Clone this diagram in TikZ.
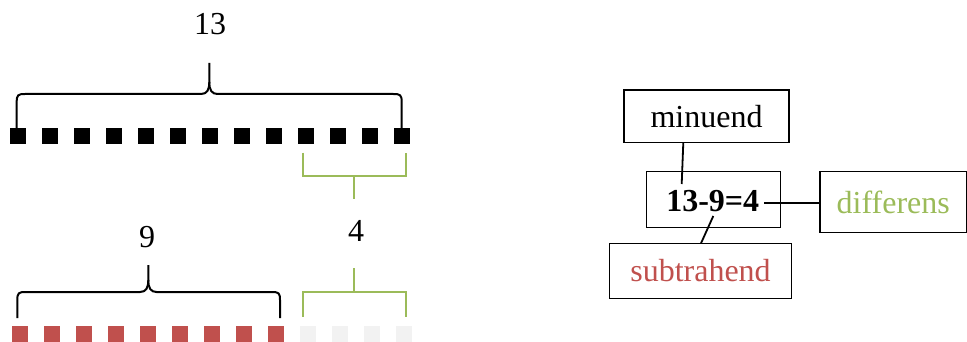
\documentclass[tikz,border=0pt]{standalone}
\usepackage{fontspec}
\setmainfont{Liberation Serif}
\definecolor{subred}{HTML}{C0504D}
\definecolor{diffgreen}{HTML}{9BBB59}
\definecolor{restgray}{HTML}{F2F2F2}
\begin{document}
\begin{tikzpicture}[x=1pt,y=-1pt,
  font=\fontsize{32}{38}\selectfont,
  unit/.style={minimum size=16pt,inner sep=0pt,draw=none},
  blackunit/.style={unit,fill=black},
  redunit/.style={unit,fill=subred},
  grayunit/.style={unit,fill=restgray},
  brace/.style={line width=2pt,black},
  gbrace/.style={line width=2pt,diffgreen},
  num/.style={inner sep=0pt},
  termbox/.style={draw,line width=1.5pt,inner sep=0pt},
  link/.style={line width=1.8pt}]
\useasboundingbox (0,0) rectangle (967,342);

% thirteen units
\foreach \i in {0,...,12}
  \node[blackunit] (t\i) at ({18+32*\i},136) {};

% nine taken away, four remaining
\foreach \i in {0,...,8}
  \node[redunit] (r\i) at ({19.7+32*\i},334) {};
\foreach \i in {0,...,3}
  \node[grayunit] (g\i) at ({308+32*\i},334) {};

% brace over all thirteen
\draw[brace] (16.7,128) -- (16.7,102)
  .. controls (16.7,95) and (18,94) .. (25,94) -- (201,94)
  .. controls (207,94) and (209.3,90) .. (209.3,82) -- (209.3,63);
\draw[brace] (401.7,128) -- (401.7,102)
  .. controls (401.7,95) and (400.4,94) .. (393.4,94) -- (217.6,94)
  .. controls (211.6,94) and (209.3,90) .. (209.3,82);
\node[num] (n13) at (210,24) {13};

% green bracket under the last four
\draw[gbrace] (302.7,152.7) -- (302.7,176) -- (405.7,176) -- (405.7,152.7);
\draw[gbrace] (354,176) -- (354,199);

% brace over the nine
\draw[brace] (17.3,318) -- (17.3,300)
  .. controls (17.3,293) and (18.6,292) .. (25.6,292) -- (140,292)
  .. controls (146,292) and (148.3,288) .. (148.3,280) -- (148.3,265);
\draw[brace] (280,318) -- (280,300)
  .. controls (280,293) and (278.7,292) .. (271.7,292) -- (156.6,292)
  .. controls (150.6,292) and (148.3,288) .. (148.3,280);
\node[num] (n9) at (147,237) {9};

% green bracket over the remaining four
\draw[gbrace] (302.7,316.7) -- (302.7,292.3) -- (405.7,292.3) -- (405.7,316.7);
\draw[gbrace] (354,292.3) -- (354,268.3);
\node[num] (n4) at (356,231) {4};

% terms of the subtraction
\node[termbox,minimum width=165pt,minimum height=52.7pt] (minuend) at (706.5,116.3) {minuend};
\node[termbox,minimum width=134pt,minimum height=56pt] (eqbox) at (713.7,199.7) {};
\node[inner sep=0pt] (eq) at (712.7,201.5) {\textbf{13-9=4}};
\node[termbox,minimum width=146.5pt,minimum height=60.6pt,text=diffgreen] (diff) at (893.3,202) {differens};
\node[termbox,minimum width=182.4pt,minimum height=55pt,text=subred] (subtr) at (700.5,270.8) {subtrahend};

\coordinate (mFoot) at (683.3,142.7);
\coordinate (eqTop) at (681.7,184);
\coordinate (eqLow) at (713.3,216);
\coordinate (sTop) at (701,243.3);
\coordinate (eqRight) at (764,203.3);
\coordinate (dLeft) at (820,203.3);
\draw[link] (mFoot) -- (eqTop);
\draw[link] (eqLow) -- (sTop);
\draw[link] (eqRight) -- (dLeft);
\end{tikzpicture}
\end{document}
